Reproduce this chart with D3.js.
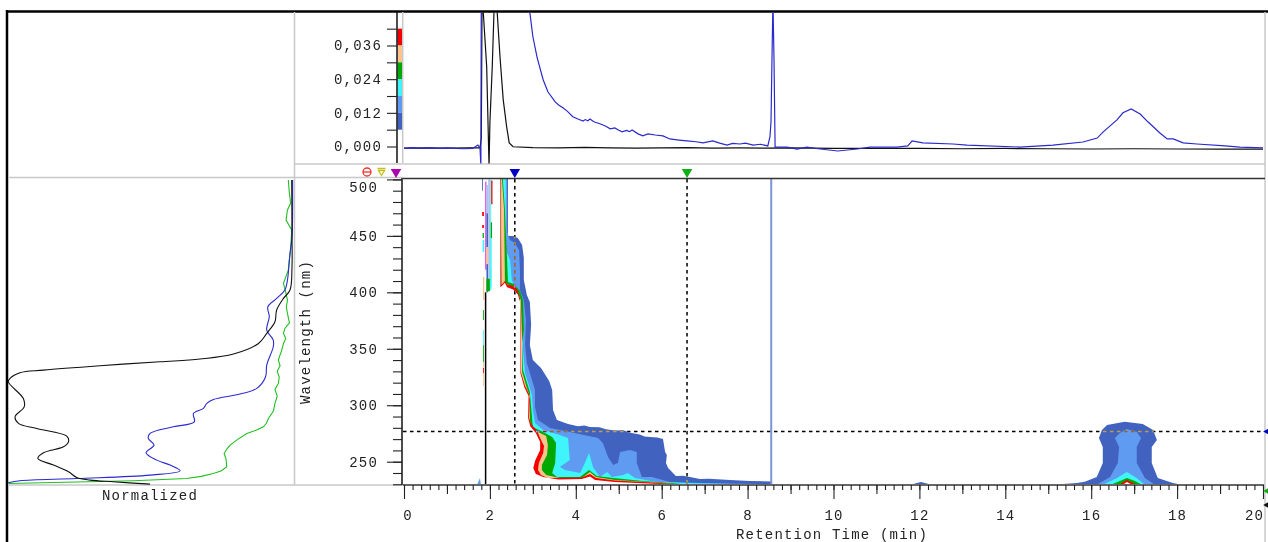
<!DOCTYPE html>
<html>
<head>
<meta charset="utf-8">
<script src="https://cdn.jsdelivr.net/npm/d3@7"></script>
<style>
  html, body { margin: 0; background: #fff; overflow: hidden; }
  svg { display: block; }
  text { font-family: "Liberation Mono", monospace; font-size: 14px; letter-spacing: 1.2px; fill: #222; }
</style>
</head>
<body>
<div id="chart"></div>
<script>
// chromatogram traces: [time min, absorbance]
const blueTrace = [[0,-.0007],[.2,-.0004],[.4,-.0007],[.6,-.0005],[.8,-.0007],[1,-.0005],[1.2,-.0007],[1.4,-.0008],[1.6,-.0007],[1.72,.0005],[1.77,-.0005],[1.79,-.007],[1.8,.06],[2.9,.06],
  [2.93,.0478],[3,.0392],[3.1,.0317],[3.24,.0238],[3.35,.0195],[3.52,.0159],[3.6,.0148],[3.7,.0138],[3.8,.0126],[3.93,.0106],[4.05,.0098],[4.17,.0091],[4.22,.0096],[4.28,.0092],[4.33,.0098],[4.42,.0088],[4.56,.0081],[4.7,.0072],[4.8,.0063],[4.91,.0066],[5,.0058],[5.08,.0052],[5.18,.0057],[5.25,.0053],[5.31,.0059],[5.45,.0045],[5.56,.0038],[5.68,.0045],[5.85,.0041],[6.03,.0038],[6.19,.0027],[6.4,.0023],[6.59,.002],[6.8,.0017],[6.96,.0013],[7.19,.002],[7.35,.0012],[7.52,.0005],[7.65,.0011],[7.82,.0009],[7.95,.0012],[8.13,.0005],[8.3,.0008],[8.47,.0002],
  [8.52,.0034],[8.545,.0088],[8.57,.0335],[8.59,.052],[8.615,.031],[8.64,-.0002],[8.92,-.0002],[9.15,-.0009],[9.38,-.0002],[9.69,-.0009],[10.1,-.0016],[10.55,-.0009],[10.85,-.0002],[11.48,-.0002],[11.73,.0002],[11.83,.002],[12.08,.0013],[12.78,.0009],[13.11,.0005],[14.34,-.0002],[15.11,.0005],[15.81,.0016],[16.14,.003],[16.28,.0052],[16.6,.0095],[16.74,.012],[16.93,.0134],[17.14,.0116],[17.32,.0088],[17.6,.0048],[17.77,.0027],[17.91,.0027],[18.14,.0013],[18.46,.0009],[19.12,.0002],[19.46,-.0002],[20,-.0005]];
const blackTrace = [[0,-.0006],[.5,-.0005],[1,-.0006],[1.5,-.0005],[1.77,-.0005],[1.8,.003],[1.82,.06],[1.845,.048],[1.925,.0285],[1.98,-.007],[2,.0084],[2.055,.0285],[2.095,.048],[2.15,.06],[2.17,.0478],[2.235,.032],[2.31,.0167],[2.39,.007],[2.45,.0013],[2.54,-.0001],[3,-.0004],[3.6,-.0005],[4.2,-.0003],[4.8,-.0005],[5.4,-.0006],[6,-.0005],[6.6,-.0004],[7.2,-.0006],[7.8,-.0005],[8.4,-.0006],[9,-.0005],[10,-.0007],[11,-.0007],[12,-.0007],[13,-.0008],[14,-.0007],[15,-.0008],[16,-.0009],[17,-.0008],[18,-.0009],[19,-.0009],[20,-.0009]];

// spectrum at the cursor: [wavelength nm, normalized]
const blackSpectrum = [[499.4,.999],[449.2,1],[422.7,1],[402,.993],[394.6,.97],[384.3,.946],[373.9,.94],[363.6,.911],[354.7,.882],[345.3,.794],[340.9,.676],[338.5,.535],[335,.324],[331.1,.125],[328.8,.042],[323.8,.007],[320.8,.001],[306,.054],[298.6,.057],[289.8,.025],[283.9,.037],[279.4,.101],[272.6,.207],[267.6,.213],[263.2,.195],[257.9,.125],[252.9,.105],[247,.16],[241.1,.213],[236,.242],[233.7,.289],[232.2,.371],[230.1,.5]];
const blueSpectrum = [[499.4,1.002],[449.2,1],[434.5,.993],[410.8,.984],[402,.975],[394.6,.946],[387.2,.915],[378.4,.92],[366.6,.911],[357.7,.934],[351.8,.934],[335.5,.911],[325.2,.907],[314.9,.876],[309.9,.817],[305.1,.723],[301.6,.7],[297.2,.688],[292.7,.653],[285.3,.656],[280.9,.582],[275,.5],[270.6,.494],[264.7,.514],[257.9,.486],[251.4,.524],[247,.571],[242,.606],[238.1,.5],[235.1,.242],[233.1,.042],[231.3,.001]];
const greenSpectrum = [[499.4,.987],[490,.99],[478.8,.995],[472.9,.984],[464,.979],[455.2,.999],[437.4,.995],[428,.99],[419.7,.987],[407.9,.97],[400,.978],[393.1,.984],[387,.98],[381.3,.984],[373,.991],[368,.975],[363.6,.97],[359,.978],[354.7,.97],[348,.963],[344,.957],[340,.952],[335,.958],[330,.948],[325,.955],[319.3,.952],[314,.94],[308,.948],[301.6,.94],[295,.935],[288.3,.917],[284,.91],[280.9,.899],[278,.875],[275,.841],[270,.81],[264.7,.782],[261,.77],[257.3,.761],[252,.768],[245.5,.77],[242,.752],[239.6,.723],[237,.68],[235.1,.629],[233.1,.441],[230.7,.001]];

// contour boundaries of the main band: [time, wavelength]
const mainDark = [[2.42,500.4],[2.42,449.9],[2.54,449.9],[2.65,448.1],[2.75,441.9],[2.79,430.4],[2.79,410.9],[2.86,397.6],[2.93,391.4],[2.96,371],[2.93,353.3],[3,340],[3.19,333],[3.38,321.4],[3.45,313.5],[3.47,295.8],[3.56,286.9],[3.82,283.4],[4.05,281.5],[4.2,282],[4.33,280.7],[4.55,280.5],[4.7,278.8],[4.91,277.6],[5.1,277.9],[5.3,275.5],[5.49,274],[5.6,272.4],[5.73,271.9],[5.9,271.4],[6.03,270.1],[6.08,258.6],[6.12,255.9],[6.1,248.8],[6.15,244.4],[6.33,237.3],[6.5,237.6],[6.66,236.4],[6.89,234.7],[7.1,235],[7.59,233.8],[8.05,232.9],[8.57,232.4],[8.57,229.6]];
const mainBlue = [[2.4,500.4],[2.4,453.4],[2.47,446.3],[2.58,443.7],[2.68,437.5],[2.7,419.8],[2.7,402],[2.79,393.2],[2.84,375.5],[2.82,353.3],[2.86,337.4],[3.05,313.5],[3.05,298.4],[3.12,286.9],[3.4,279.8],[3.86,276.3],[4.52,271],[4.63,266.5],[4.75,254.1],[4.87,247],[4.98,248.8],[5.03,258.6],[5.26,260.3],[5.42,258.6],[5.42,248.8],[5.54,236.4],[5.77,236.4],[6.19,232],[6.96,231.1],[7.59,230.7],[8.52,230.2],[8.55,229.6]];
const mainCyan = [[2.37,500.4],[2.37,437.5],[2.47,428.6],[2.51,410.9],[2.54,408.2],[2.7,399.4],[2.75,390.5],[2.77,366.6],[2.77,348.9],[2.82,328.5],[2.98,309],[3,295.8],[3.05,284.2],[3.24,278],[3.56,274.5],[3.82,271],[3.86,251.5],[3.63,245.3],[3.75,242.6],[4.1,240],[4.21,248.8],[4.31,257.7],[4.4,245.3],[4.56,236.4],[4.73,240.9],[4.84,236.4],[5.1,238.2],[5.21,240],[5.38,235.5],[5.89,232],[6.59,231.1],[7.59,230.2],[8.52,229.6]];
const mainGreen = [[2.3,500.4],[2.35,472.9],[2.37,453.4],[2.4,428.6],[2.42,409.1],[2.56,407.4],[2.7,401.2],[2.77,393.2],[2.79,366.6],[2.75,355.1],[2.77,331.2],[2.93,311.7],[2.98,289.6],[3,280.7],[3.24,276.3],[3.45,271.9],[3.54,266.5],[3.52,248.8],[3.45,240],[3.56,236.4],[4.1,236.4],[4.31,242.6],[4.49,237.3],[4.87,235.5],[5.56,232.9],[6.19,231.1],[6.66,229.6]];
const mainOrange = [[2.28,500.4],[2.33,472.9],[2.35,409.1],[2.4,407.4],[2.51,404.7],[2.63,401.2],[2.72,393.2],[2.75,357.8],[2.75,329.4],[2.86,315.2],[2.93,308.2],[2.93,286.9],[2.98,280.7],[3.12,276.3],[3.31,272.7],[3.35,264.8],[3.33,255.9],[3.21,247],[3.21,242.6],[3.31,238.2],[3.63,235.5],[4.14,235.5],[4.33,240.9],[4.47,236.4],[4.91,233.8],[5.68,232],[6.43,229.7]];
const mainRed = [[2.26,500.4],[2.26,453.4],[2.27,406.5],[2.35,410],[2.42,406.5],[2.51,406],[2.63,402.9],[2.7,395],[2.72,366.6],[2.72,329.4],[2.82,317],[2.91,310],[2.93,304.6],[2.91,288.7],[2.96,283.4],[3.1,277.2],[3.19,269.2],[3.26,263.9],[3.24,257.7],[3.14,248.8],[3.12,242.6],[3.19,238.2],[3.35,235.5],[4.14,236],[4.33,239.1],[4.47,235.5],[4.91,233.3],[5.68,231.7],[6.43,229.7]];
const mainWhite = [[2.21,404],[2.28,405.5],[2.35,408.5],[2.4,404.5],[2.54,402.5],[2.65,398],[2.7,392],[2.71,364],[2.71,328.5],[2.8,316.1],[2.9,308.2],[2.89,288.7],[2.94,281.5],[3.07,275.5],[3.17,267.4],[3.17,260.3],[3.05,250.6],[3.01,244.4],[3.07,239.1],[3.24,236.4],[3.59,234.2],[4.14,234.7],[4.33,236.9],[4.45,233.8],[4.91,232],[5.68,230.7],[6.43,229.6]];

// contour boundaries of the 17 min peak
const peakDark = [[15.34,230.2],[15.67,231.1],[15.85,232.3],[16.13,236.4],[16.27,248.8],[16.27,263],[16.18,271],[16.25,278],[16.37,282.5],[16.78,285.4],[17.2,283.4],[17.44,278],[17.53,269.2],[17.41,263],[17.41,248.8],[17.55,235.5],[17.9,231.1],[18.11,229.6]];
const peakBlue = [[16.13,229.6],[16.44,236.4],[16.62,248.8],[16.65,263],[16.55,271],[16.67,275.4],[16.83,278.9],[17.06,276.3],[17.16,271],[17.06,263],[17.06,248.8],[17.25,235.5],[17.48,229.6]];
const peakCyan = [[16.27,229.6],[16.6,235.5],[16.83,240.8],[17.06,235.5],[17.25,229.6]];
const peakGreen = [[16.46,229.6],[16.67,232.9],[16.83,235.5],[17.02,232.9],[17.18,229.6]];
const peakRed = [[16.65,229.6],[16.83,233.8],[17.06,229.6]];
const peakWhite = [[16.74,229.6],[16.83,232],[16.95,229.6]];

const blobNoon = [[11.8,229.6],[11.94,231.1],[12.04,232],[12.15,231],[12.25,229.6]];
const blobFront = [[1.7,229.6],[1.77,235.5],[1.79,229.6]];

// narrow saturated column near the void volume: [t0, t1, nm top, nm bottom, colour index]
const voidStrips = [
  [1.82,1.84,500.4,490,0],
  [1.82,1.86,471.1,467.6,5],[1.82,1.86,459.6,457,5],[1.83,1.86,452.5,448.1,3],[1.83,1.87,446.3,435.7,2],[1.84,1.87,413.6,393.2,4],
  [1.84,1.86,384.3,375.5,3],[1.84,1.86,366.6,353.3,2],[1.84,1.86,353.3,338.3,3],[1.84,1.86,338.3,333,4],[1.84,1.86,333,328.5,5],[1.84,1.86,328.5,317,4],
  [1.89,1.92,498,420,6],[1.92,1.96,495,470,7],[1.92,1.96,470,440,0],[1.92,1.96,440,425,4],[1.92,1.96,425,400,0],[1.96,2.01,500,402,7],[2.01,2.03,500,402,2],
  [2.03,2.06,499,478,5],[2.02,2.05,462,448,3],[2.01,2.04,448,405,2],[1.92,2,412,401,3],[2,2.03,420,402,2]];

const bandColors = ["#4163bf", "#5f9bf0", "#3ff5fb", "#00a800", "#fbc48c", "#f40000", "#e040e0", "#a9c6ee"];

const absTicks = [0, .012, .024, .036];
const absMinor = [.006, .018, .03, .042];
const nmMajor = [250, 300, 350, 400, 450, 500];
const timeMajor = d3.range(0, 21, 2);
const timeMedium = d3.range(1, 20, 2);
const timeMinor = d3.range(0, 20.01, .2);
const cursorTimes = [2.58, 6.59];
const crossNm = 276.7;
const voidCursor = 1.9;
const spikeCursor = 8.55;

const svg = d3.select("#chart").append("svg").attr("width", 1268).attr("height", 542);
svg.append("rect").attr("width", 1268).attr("height", 542).attr("fill", "#fff");

const x = d3.scaleLinear().domain([0, 20]).range([404, 1263]);
const yAbs = d3.scaleLinear().domain([0, .036]).range([146.5, 45.5]);
const yNm = d3.scaleLinear().domain([250, 500]).range([461.7, 179.4]);
const xNorm = d3.scaleLinear().domain([0, 1]).range([8, 292]);
const nmBottom = yNm.invert(484.7);
const nmTop = yNm.invert(179);

// frames
const frameLines = [[7, 11.5, 1268, 11.5, "#000", 2.5], [7, 10, 7, 542, "#000", 2.5],
  [294.5, 12, 294.5, 485, "#c8c8c8", 1.5], [294, 164, 1265, 164, "#c8c8c8", 1.5], [8, 177.5, 403, 177.5, "#c8c8c8", 1.5],
  [8, 485, 403, 485, "#c8c8c8", 1.5], [1265, 12, 1265, 542, "#c8c8c8", 1.5], [402.7, 12, 402.7, 163, "#c8c8c8", 1.5]];
svg.selectAll("line.frame").data(frameLines).enter().append("line").attr("class", "frame")
  .attr("x1", d => d[0]).attr("y1", d => d[1]).attr("x2", d => d[2]).attr("y2", d => d[3])
  .attr("stroke", d => d[4]).attr("stroke-width", d => d[5]);

svg.append("clipPath").attr("id", "topClip").append("rect").attr("x", 403).attr("y", 12.5).attr("width", 861).attr("height", 151);
svg.append("clipPath").attr("id", "mainClip").append("rect").attr("x", 403).attr("y", 179).attr("width", 861).attr("height", 306);

// top chromatogram
const traceLine = d3.line().x(d => x(d[0])).y(d => yAbs(d[1]));
const topPanel = svg.append("g").attr("clip-path", "url(#topClip)");
topPanel.append("path").datum(blackTrace).attr("d", traceLine).attr("fill", "none").attr("stroke", "#111").attr("stroke-width", 1.2);
topPanel.append("path").datum(blueTrace).attr("d", traceLine).attr("fill", "none").attr("stroke", "#2a2acc").attr("stroke-width", 1.2);

// colour scale beside the absorbance axis
svg.selectAll("rect.legend").data(bandColors.slice(0, 6).reverse()).enter().append("rect").attr("class", "legend")
  .attr("x", 397.5).attr("width", 4.5)
  .attr("y", (d, i) => yAbs(.042 - .006 * i))
  .attr("height", yAbs(0) - yAbs(.006))
  .attr("fill", d => d);

const absAxis = d3.axisLeft(yAbs).tickValues(absTicks).tickSize(10).tickPadding(5)
  .tickFormat(d => d3.format(".3f")(d).replace(".", ","));
const absG = svg.append("g").attr("transform", "translate(397,0)").call(absAxis);
const absMinorAxis = d3.axisLeft(yAbs).tickValues(absMinor).tickSize(10).tickFormat("");
const absMinorG = svg.append("g").attr("transform", "translate(397,0)").call(absMinorAxis);
absMinorG.select(".domain").remove();
absG.select(".domain").attr("d", "M0,12V163").attr("stroke", "#111").attr("stroke-width", 1.5);

// contour map
const contour = d3.line().x(d => x(d[0])).y(d => yNm(d[1]));
const mapG = svg.append("g").attr("clip-path", "url(#mainClip)");
const closeT = 2.25;
const mainBands = [mainDark, mainBlue, mainCyan, mainGreen, mainOrange, mainRed];
mapG.selectAll("path.main").data(mainBands).enter().append("path").attr("class", "main")
  .attr("d", d => contour(d.concat([[closeT, nmBottom], [closeT, nmTop]])) + "Z")
  .attr("fill", (d, i) => bandColors[i]);
mapG.append("path").attr("d", contour(mainWhite.concat([[2.21, nmBottom]])) + "Z").attr("fill", "#fff");

const peakBands = [[peakDark, bandColors[0]], [peakBlue, bandColors[1]], [peakCyan, bandColors[2]], [peakGreen, bandColors[3]], [peakRed, bandColors[5]], [peakWhite, "#fff"], [blobNoon, bandColors[0]], [blobFront, bandColors[1]]];
mapG.selectAll("path.peak").data(peakBands).enter().append("path").attr("class", "peak")
  .attr("d", d => contour(d[0]) + "Z").attr("fill", d => d[1]);

mapG.selectAll("rect.strip").data(voidStrips).enter().append("rect").attr("class", "strip")
  .attr("x", d => x(d[0])).attr("width", d => x(d[1]) - x(d[0]))
  .attr("y", d => yNm(d[2])).attr("height", d => yNm(d[3]) - yNm(d[2]))
  .attr("fill", d => bandColors[d[4]]);

// cursors
mapG.append("line").attr("x1", x(spikeCursor)).attr("x2", x(spikeCursor)).attr("y1", yNm(nmTop)).attr("y2", yNm(nmBottom))
  .attr("stroke", "#7c93d6").attr("stroke-width", 2);
mapG.append("line").attr("x1", x(voidCursor)).attr("x2", x(voidCursor)).attr("y1", yNm(400)).attr("y2", yNm(nmBottom))
  .attr("stroke", "#000").attr("stroke-width", 1.5);
// inverted dashes, black on white and orange over the blue bands (kept out of the clipped group, it isolates blending)
svg.selectAll("line.cursor").data(cursorTimes).enter().append("line").attr("class", "cursor")
  .attr("x1", d => x(d)).attr("x2", d => x(d)).attr("y1", yNm(nmTop)).attr("y2", yNm(nmBottom))
  .attr("stroke", "#fff").attr("stroke-width", 1.5).attr("stroke-dasharray", "3.5,3.5").style("mix-blend-mode", "difference");
svg.append("line").attr("x1", 403).attr("x2", 1264).attr("y1", yNm(crossNm)).attr("y2", yNm(crossNm))
  .attr("stroke", "#fff").attr("stroke-width", 1.5).attr("stroke-dasharray", "3.5,3.5").style("mix-blend-mode", "difference");

svg.append("line").attr("x1", 403).attr("x2", 1265).attr("y1", 178.5).attr("y2", 178.5).attr("stroke", "#333").attr("stroke-width", 1.5);

// wavelength axis
const nmAxis = d3.axisLeft(yNm).tickValues(nmMajor).tickSize(15).tickPadding(9).tickFormat(d3.format("d"));
const nmG = svg.append("g").attr("transform", "translate(402,0)").call(nmAxis);
nmG.select(".domain").attr("d", "M0,178V485").attr("stroke", "#111").attr("stroke-width", 1.5);
nmG.selectAll(".tick text").filter(d => d === 500).attr("dy", "0.9em");
const nmMinorAxis = d3.axisLeft(yNm).tickValues(d3.range(230, 501, 10)).tickSize(9).tickFormat("");
svg.append("g").attr("transform", "translate(402,0)").call(nmMinorAxis).select(".domain").remove();

// time axis
const timeAxis = d3.axisBottom(x).tickValues(timeMajor).tickSize(14).tickPadding(11).tickFormat(d3.format("d"));
const timeG = svg.append("g").attr("transform", "translate(0,485)").call(timeAxis);
timeG.select(".domain").attr("d", "M403,0H1264").attr("stroke", "#666").attr("stroke-width", 2);
timeG.selectAll(".tick text").filter(d => d === 0).attr("dx", 3.5);
timeG.selectAll(".tick text").filter(d => d === 20).attr("dx", -9);
[[timeMedium, 9], [timeMinor, 5]].forEach(([vals, size]) => {
  svg.append("g").attr("transform", "translate(0,485)")
    .call(d3.axisBottom(x).tickValues(vals).tickSize(size).tickFormat(""))
    .select(".domain").remove();
});
svg.selectAll(".tick line").attr("stroke", "#222").attr("stroke-width", 1.1);
svg.selectAll(".tick text").style("font-family", '"Liberation Mono", monospace').style("font-size", "14px").style("letter-spacing", "1.2px").attr("fill", "#222");

// left spectrum panel
const specLine = d3.line().x(d => xNorm(d[1])).y(d => yNm(d[0]));
const specSmooth = d3.line().curve(d3.curveCatmullRom.alpha(.5)).x(d => xNorm(d[1])).y(d => yNm(d[0]));
svg.append("path").datum(greenSpectrum).attr("d", specLine).attr("fill", "none").attr("stroke", "#1fc01f").attr("stroke-width", 1.1);
svg.append("path").datum(blueSpectrum).attr("d", specSmooth).attr("fill", "none").attr("stroke", "#2a2ad0").attr("stroke-width", 1.1);
svg.append("path").datum(blackSpectrum).attr("d", specSmooth).attr("fill", "none").attr("stroke", "#111").attr("stroke-width", 1.1);

// axis titles
svg.append("text").attr("x", 150).attr("y", 500).attr("text-anchor", "middle").text("Normalized");
svg.append("text").attr("x", 832).attr("y", 538.5).attr("text-anchor", "middle").text("Retention Time (min)");
svg.append("text").attr("transform", "translate(310,332) rotate(-90)").attr("text-anchor", "middle").text("Wavelength (nm)");

// cursor flags on the strip between the panels
const tri = d3.symbol().type(d3.symbolTriangle).size(48);
const flags = [[x(cursorTimes[0]), "#0000c0"], [x(cursorTimes[1]), "#10b010"], [396, "#b000b0"]];
svg.selectAll("path.flag").data(flags).enter().append("path").attr("class", "flag")
  .attr("d", tri).attr("transform", d => `translate(${d[0]},172) rotate(180)`).attr("fill", d => d[1]);
svg.append("path").attr("d", "M377.5,168.5h8M378.5,170.5l3,5l3,-5z").attr("fill", "none").attr("stroke", "#c8c020").attr("stroke-width", 1.3);
svg.append("circle").attr("cx", 367).attr("cy", 172).attr("r", 4).attr("fill", "none").attr("stroke", "#f03030").attr("stroke-width", 1.3);
svg.append("line").attr("x1", 363).attr("x2", 371).attr("y1", 172).attr("y2", 172).attr("stroke", "#f03030").attr("stroke-width", 1.3);

// small markers on the right edge
const edgeFlags = [[yNm(crossNm), "#0000c0"], [491, "#10b010"], [505, "#111"]];
svg.selectAll("path.edge").data(edgeFlags).enter().append("path").attr("class", "edge")
  .attr("d", d3.symbol().type(d3.symbolTriangle).size(14))
  .attr("transform", d => `translate(1266.5,${d[0]}) rotate(-90)`).attr("fill", d => d[1]);
</script>
</body>
</html>
